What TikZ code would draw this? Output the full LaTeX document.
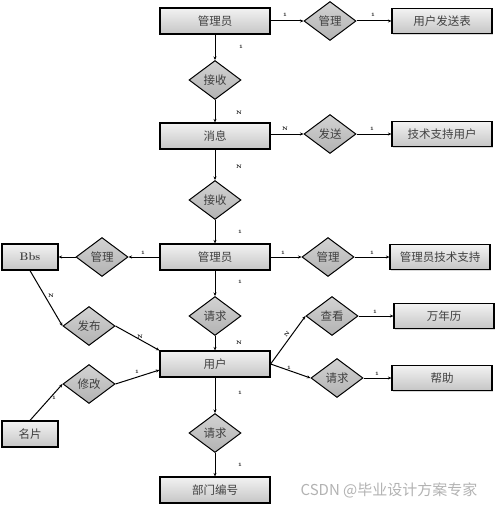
\documentclass[tikz,border=0pt]{standalone}
\usepackage{fontspec}
\newfontfamily\cjk{Noto Sans CJK SC}
\usetikzlibrary{shapes.geometric,arrows.meta,shadows}
\begin{document}
\begin{tikzpicture}[x=1pt, y=-1pt, every node/.style={font=\cjk\fontsize{11.5}{13}\selectfont, text=black!75}]

	\tikzset{
	entity/.style={draw=black, line width=1.2pt, top color=gray!10, bottom color=gray!45, minimum width=110pt, minimum height=26pt, inner sep=0pt, drop shadow={shadow xshift=1.2pt, shadow yshift=-1.2pt, fill=gray!60}},
	smallent/.style={entity, minimum width=56pt},
	sideent/.style={entity, minimum width=100pt, minimum height=25pt},
	relation/.style={diamond, draw=black, line width=1pt, top color=gray!35, bottom color=gray!60, minimum width=52pt, minimum height=39pt, inner sep=0pt, aspect=1.4},
	link/.style={line width=1pt, -{Stealth[length=3.5pt, width=3pt]}},
	card/.style={font=\bfseries\fontsize{5}{5}\selectfont, text=black, inner sep=1pt}
	}

	\useasboundingbox (0,0) rectangle (499,508);

	% Nodes
	\node[entity] (adm1) at (215,21) {管理员};
	\node[relation, node distance=115pt, right of=adm1] (mg1) {管理};
	\node[sideent, node distance=112pt, right of=mg1] (tab1) {用户发送表};
	\node[relation, node distance=59pt, below of=adm1] (rec1) {接收};
	\node[entity, node distance=56pt, below of=rec1] (msg) {消息};
	\node[relation, node distance=115pt, right of=msg, yshift=2pt] (send) {发送};
	\node[sideent, node distance=112pt, right of=send] (tech) {技术支持用户};
	\node[relation, node distance=64pt, below of=msg] (rec2) {接收};
	\node[entity, node distance=57pt, below of=rec2] (adm2) {管理员};
	\node[relation, node distance=113pt, right of=adm2] (mg2) {管理};
	\node[sideent, node distance=112pt, right of=mg2] (support) {管理员技术支持};
	\node[relation, node distance=113pt, left of=adm2] (mg3) {管理};
	\node[smallent, node distance=72pt, left of=mg3, font=\bfseries\fontsize{11}{12}\selectfont] (bbs) {Bbs};
	\node[relation, node distance=59pt, below of=adm2] (req1) {请求};
	\node[entity, node distance=48pt, below of=req1] (user) {用户};
	\node[relation] (pub) at (89,326) {发布};
	\node[relation] (view) at (332,316) {查看};
	\node[sideent, node distance=112pt, right of=view] (cal) {万年历};
	\node[relation] (req2) at (337,378) {请求};
	\node[sideent, node distance=105pt, right of=req2] (help) {帮助};
	\node[relation] (edit) at (89,384) {修改};
	\node[smallent] (namecard) at (30,434) {名片};
	\node[relation, node distance=69pt, below of=user] (req3) {请求};
	\node[entity, node distance=57pt, below of=req3] (dept) {部门编号};

	% Cardinalities
	\node[card] at (285,15) {1};
	\node[card] at (373,15) {1};
	\node[card] at (241,47) {1};
	\node[card] at (239,113) {N};
	\node[card] at (285,129) {N};
	\node[card] at (372,129) {1};
	\node[card] at (239,167) {N};
	\node[card] at (240,232) {1};
	\node[card] at (283,253) {1};
	\node[card] at (372,253) {1};
	\node[card] at (143,253) {1};
	\node[card] at (240,282) {1};
	\node[card] at (239,343) {N};
	\node[card] at (51,296) {N};
	\node[card] at (140,337) {N};
	\node[card, rotate=50] at (287,334) {N};
	\node[card] at (375,312) {1};
	\node[card] at (289,368) {1};
	\node[card] at (377,374) {1};
	\node[card] at (54,398) {1};
	\node[card] at (137,372) {1};
	\node[card] at (240,393) {1};
	\node[card] at (240,465) {1};

	% Lines
	\draw[link] (adm1) -- (mg1);
	\draw[link] (mg1) -- (tab1);
	\draw[link] (adm1) -- (rec1);
	\draw[link] (rec1) -- (msg);
	\draw[link] (msg.east |- send) -- (send);
	\draw[link] (send) -- (tech);
	\draw[link] (msg) -- (rec2);
	\draw[link] (rec2) -- (adm2);
	\draw[link] (adm2) -- (mg2);
	\draw[link] (mg2) -- (support);
	\draw[link] (adm2) -- (mg3);
	\draw[link] (mg3) -- (bbs);
	\draw[link] (adm2) -- (req1);
	\draw[link] (req1) -- (user);
	\draw[link] (bbs.south) -- (pub.west);
	\draw[link] (pub.east) -- (user.north west);
	\draw[link] (user.east) -- (view.west);
	\draw[link] (view) -- (cal);
	\draw[link] (user.east) -- (req2.west);
	\draw[link] (req2) -- (help);
	\draw[link] (namecard.north) -- (edit.west);
	\draw[link] (edit.east) -- ([yshift=-6pt]user.west);
	\draw[link] (user) -- (req3);
	\draw[link] (req3) -- (dept);

	% Watermark
	\node[font=\cjk\fontsize{15}{17}\selectfont, text=gray!60] (mark) at (389,490) {CSDN @毕业设计方案专家};

	\end{tikzpicture}
\end{document}
